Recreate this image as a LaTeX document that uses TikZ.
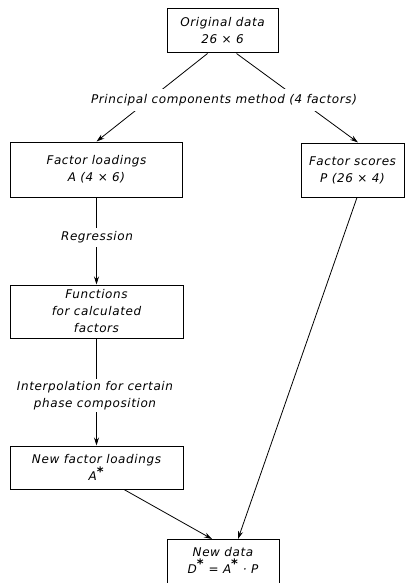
\documentclass[tikz,border=0pt]{standalone}
\usepackage{fontspec}
\newfontfamily\lett[LetterSpace=5]{DejaVu Sans}
\usetikzlibrary{arrows.meta}
\newcommand{\myast}{\textsuperscript{\fontsize{13}{13}\selectfont\bfseries *}}
\begin{document}
\begin{tikzpicture}[x=1pt,y=-1pt,
  font=\lett\itshape\fontsize{12}{17}\selectfont,
  box/.style={draw, line width=1pt, align=center, inner sep=0pt},
  lab/.style={fill=white, align=center, inner xsep=2pt},
  arr/.style={-{Stealth[length=8pt,width=5pt]}, line width=0.8pt}]
\useasboundingbox (0,0) rectangle (415,583);
\fill[white] (0,0) rectangle (415,583);
\clip (0,0) rectangle (415,583);
\node[box, minimum width=111pt, minimum height=44pt] (orig) at (222.5,31) {Original data\\26 × 6};
\node[box, minimum width=172pt, minimum height=55pt] (fl) at (96.5,169.5) {Factor loadings\\A (4 × 6)};
\node[box, minimum width=103pt, minimum height=54pt] (fs) at (352.5,170) {Factor scores\\P (26 × 4)};
\node[box, minimum width=173pt, minimum height=53pt] (fn) at (96.5,311.5) {Functions\\for calculated\\factors};
\node[box, minimum width=173pt, minimum height=43pt] (nfl) at (96.5,467.5) {New factor loadings\\A\myast};
\node[box, minimum width=112pt, minimum height=58pt, anchor=north] (nd) at (223,539) {New data\\D\myast{} = A\myast{} · P\\\mbox{}};
\draw[arr] ([xshift=-15pt]orig.south) -- (fl.north);
\draw[arr] ([xshift=14pt]orig.south) -- ([xshift=5.5pt]fs.north);
\draw[arr] (fl.south) -- (fn.north);
\draw[arr] (fn.south) -- (nfl.north);
\draw[arr] ([xshift=27.5pt]nfl.south) -- ([xshift=-11pt]nd.north);
\draw[arr] ([xshift=4.5pt]fs.south) -- ([xshift=15pt]nd.north);
\node[lab, inner ysep=5pt] (pcm) at (224,100) {Principal components method (4 factors)};
\node[lab, inner ysep=4pt] (reg) at (97,237.5) {Regression};
\node[lab, inner ysep=2pt] (ip) at (95,395.5) {Interpolation for certain\\phase composition};
\end{tikzpicture}
\end{document}
